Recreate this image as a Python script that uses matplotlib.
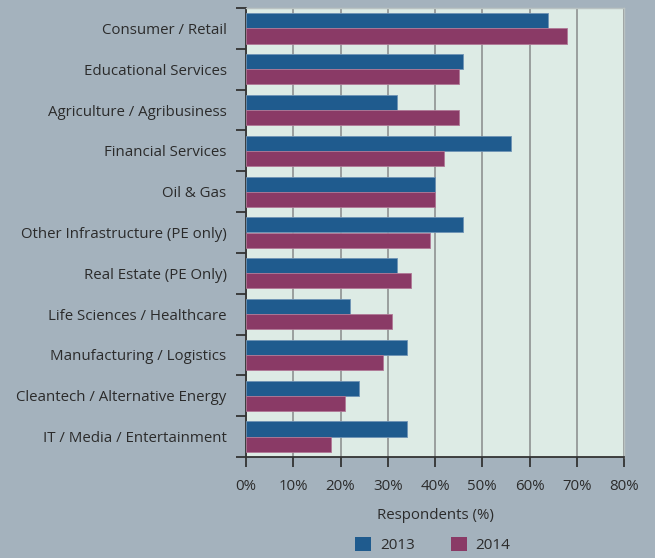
import matplotlib
matplotlib.use("Agg")
import matplotlib.pyplot as plt
import numpy as np
from matplotlib.patches import Patch

categories = ["Consumer / Retail", "Educational Services", "Agriculture / Agribusiness",
              "Financial Services", "Oil & Gas", "Other Infrastructure (PE only)",
              "Real Estate (PE Only)", "Life Sciences / Healthcare", "Manufacturing / Logistics",
              "Cleantech / Alternative Energy", "IT / Media / Entertainment"]
vals_2013 = [64, 46, 32, 56, 40, 46, 32, 22, 34, 24, 34]
vals_2014 = [68, 45, 45, 42, 40, 39, 35, 31, 29, 21, 18]
series_names = ["2013", "2014"]
xticks = [0, 10, 20, 30, 40, 50, 60, 70, 80]

bg = "#A4B2BD"
face = "#DDEBE5"
c13 = "#1F5B8E"
c14 = "#8A3A66"
txt = "#2B2B2B"

plt.rcParams['font.family'] = ['Open Sans', 'DejaVu Sans']

fig = plt.figure(figsize=(6.55, 5.58), dpi=100, facecolor=bg)
ax = fig.add_axes([246/655, 1-457/558, 378/655, 449/558])
ax.set_facecolor(face)

n = len(categories)
y = np.arange(n)
h = 0.37
ax.barh(y - h/2, vals_2013, height=h, color=c13, edgecolor="#6E93B5", linewidth=0.6, zorder=3)
ax.barh(y + h/2, vals_2014, height=h, color=c14, edgecolor="#B07896", linewidth=0.6, zorder=3)

ax.set_ylim(n - 0.5, -0.5)
ax.set_xlim(0, 80)
ax.set_xticks(xticks)
ax.set_xticklabels([f"{t}%" for t in xticks], color=txt, fontsize=10.8)
ax.set_yticks(np.arange(n + 1) - 0.5)
ax.set_yticklabels([])
ax.set_yticks(y, minor=True)
ax.set_yticklabels(categories, minor=True, color=txt, fontsize=10.8)
ax.tick_params(axis='y', which='minor', length=0, pad=14)
ax.tick_params(axis='y', which='major', length=7, width=1.3, color="#333333", direction='out')
ax.tick_params(axis='x', length=7, width=1.3, color="#333333", direction='out', pad=9)

ax.grid(axis='x', color="#9A9E9E", linewidth=1.4, zorder=1)
for s in ['left', 'bottom']:
    ax.spines[s].set_color("#333333")
    ax.spines[s].set_linewidth(1.3)
for s in ['top', 'right']:
    ax.spines[s].set_color("#B9C2C2")
    ax.spines[s].set_linewidth(1.0)

ax.set_xlabel("Respondents (%)", color=txt, fontsize=10.8, labelpad=10)

handles = [Patch(facecolor=c13, label=series_names[0]), Patch(facecolor=c14, label=series_names[1])]
fig.legend(handles=handles, loc='lower center', bbox_to_anchor=(0.661, -0.016), ncol=2,
           frameon=False, fontsize=11, handlelength=1.0, handleheight=0.95, columnspacing=2.4,
           handletextpad=0.6, labelcolor=txt)

fig.savefig("out.png", dpi=100, facecolor=bg)
